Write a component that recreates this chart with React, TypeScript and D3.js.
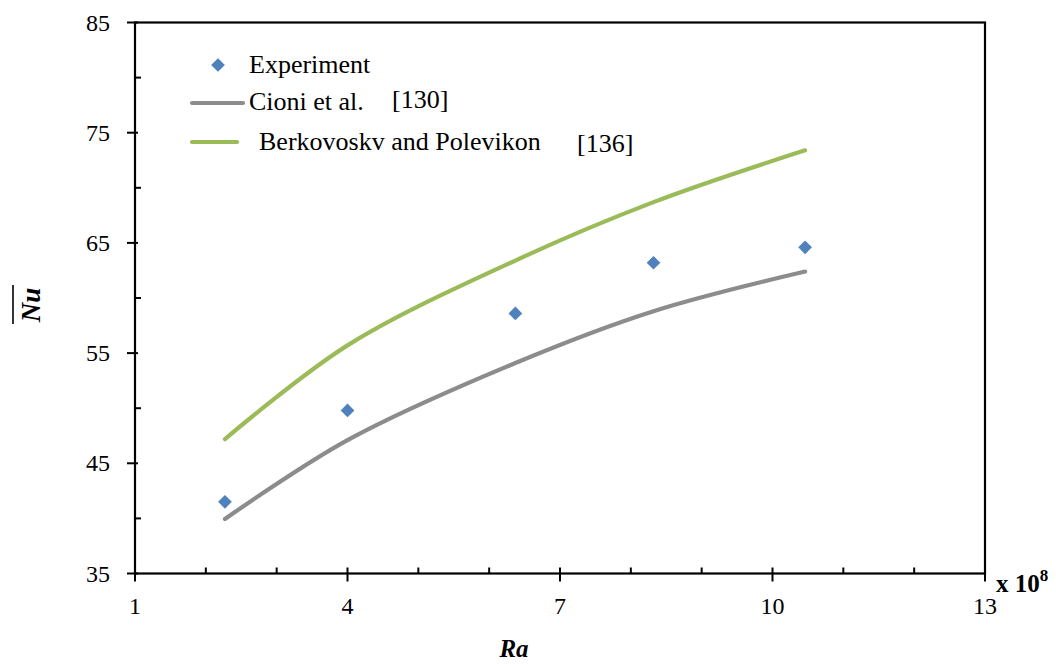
import React, { useEffect, useRef } from "react";
import * as d3 from "d3";

const raValues = [2.27, 4.0, 6.37, 8.32, 10.46];
const experiment = [41.5, 49.8, 58.6, 63.2, 64.6];
const cioni = [39.95, 47.1, 54.1, 58.8, 62.4];
const berkovsky = [47.2, 55.7, 63.4, 68.7, 73.4];
const xMajorTicks = [1, 4, 7, 10, 13];
const xMinorTicks = [2, 3, 5, 6, 8, 9, 11, 12];
const yMajorTicks = [35, 45, 55, 65, 75, 85];
const yMinorTicks = [40, 50, 60, 70, 80];

const W = 1056, H = 664;
const L = 135, R = 985, T = 22.5, B = 573.5;
const FONT = "Liberation Serif";

export default function App() {
  const ref = useRef<SVGSVGElement>(null);
  useEffect(() => {
    document.body.style.margin = "0";
    const svg = d3.select(ref.current);
    svg.selectAll("*").remove();
    const x = d3.scaleLinear().domain([1, 13]).range([L, R]);
    const y = d3.scaleLinear().domain([35, 85]).range([B, T]);

    svg.append("rect").attr("x", L).attr("y", T).attr("width", R - L).attr("height", B - T)
      .attr("fill", "none").attr("stroke", "#000").attr("stroke-width", 2.2);

    const g = svg.append("g").attr("stroke", "#000").attr("stroke-width", 2);
    xMajorTicks.forEach(v => g.append("line").attr("x1", x(v)).attr("x2", x(v)).attr("y1", B - 6).attr("y2", B + 8));
    xMinorTicks.forEach(v => g.append("line").attr("x1", x(v)).attr("x2", x(v)).attr("y1", B - 6).attr("y2", B));
    yMajorTicks.forEach(v => g.append("line").attr("x1", L - 8).attr("x2", L + 3).attr("y1", y(v)).attr("y2", y(v)));
    yMinorTicks.forEach(v => g.append("line").attr("x1", L).attr("x2", L + 6).attr("y1", y(v)).attr("y2", y(v)));

    const t = svg.append("g").style("font-family", FONT).attr("font-size", 24).attr("fill", "#000");
    xMajorTicks.forEach(v => t.append("text").attr("x", x(v)).attr("y", 614).attr("text-anchor", "middle").text(v));
    yMajorTicks.forEach(v => t.append("text").attr("x", 110).attr("y", y(v) + 8).attr("text-anchor", "end").text(v));

    const sci = svg.append("text").attr("x", 996).attr("y", 592).style("font-family", FONT)
      .attr("font-size", 25).attr("font-weight", "bold");
    sci.append("tspan").text("x 10");
    sci.append("tspan").attr("dy", -11).attr("font-size", 17).text("8");

    svg.append("text").attr("x", 514).attr("y", 657).attr("text-anchor", "middle").style("font-family", FONT)
      .attr("font-size", 25).attr("font-weight", "bold").attr("font-style", "italic").text("Ra");
    svg.append("text").attr("transform", "translate(40,305) rotate(-90)").attr("text-anchor", "middle")
      .style("font-family", FONT).attr("font-size", 27).attr("font-weight", "bold").attr("font-style", "italic").text("Nu");
    svg.append("line").attr("x1", 13).attr("x2", 13).attr("y1", 285).attr("y2", 324).attr("stroke", "#000").attr("stroke-width", 1.6);

    const line = d3.line<number>().x((_, i) => x(raValues[i])).curve(d3.curveCatmullRom.alpha(0.5));
    svg.append("path").attr("d", line.y(d => y(d))(cioni)).attr("fill", "none").attr("stroke", "#8C8C8C")
      .attr("stroke-width", 4.2).attr("stroke-linecap", "round");
    svg.append("path").attr("d", line.y(d => y(d))(berkovsky)).attr("fill", "none").attr("stroke", "#9BBB59")
      .attr("stroke-width", 4.2).attr("stroke-linecap", "round");

    const diamond = d3.symbol().type(d3.symbolDiamond2).size(120);
    raValues.forEach((r, i) => {
      svg.append("path").attr("d", diamond()).attr("transform", `translate(${x(r)},${y(experiment[i])})`)
        .attr("fill", "#4F81BD");
    });

    svg.append("path").attr("d", diamond()).attr("transform", "translate(218,65)").attr("fill", "#4F81BD");
    svg.append("line").attr("x1", 192).attr("x2", 243).attr("y1", 103).attr("y2", 103).attr("stroke", "#8C8C8C")
      .attr("stroke-width", 4.2).attr("stroke-linecap", "round");
    svg.append("line").attr("x1", 192).attr("x2", 237).attr("y1", 142).attr("y2", 142).attr("stroke", "#9BBB59")
      .attr("stroke-width", 4.2).attr("stroke-linecap", "round");
    const lg = svg.append("g").style("font-family", FONT).attr("font-size", 26).attr("fill", "#000");
    lg.append("text").attr("x", 249).attr("y", 72.5).text("Experiment");
    lg.append("text").attr("x", 249).attr("y", 110).text("Cioni et al.");
    lg.append("text").attr("x", 392).attr("y", 108).text("[130]");
    lg.append("text").attr("x", 259).attr("y", 150).text("Berkovoskv and Polevikon");
    lg.append("text").attr("x", 577).attr("y", 152).text("[136]");
  }, []);
  return <svg ref={ref} width={W} height={H} style={{ display: "block", background: "#fff" }} />;
}
